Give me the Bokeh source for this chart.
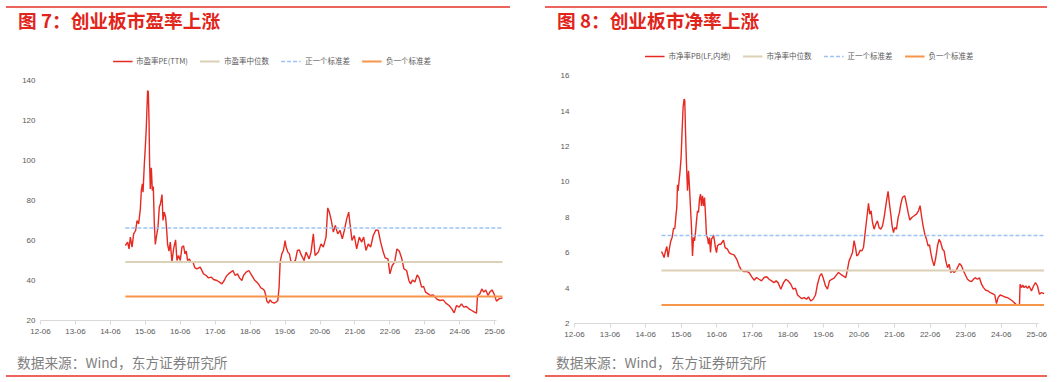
from bokeh.plotting import figure
from bokeh.models import Range1d, FixedTicker, Legend, LegendItem, Div, Spacer
from bokeh.layouts import row, column
from bokeh.embed import file_html
from bokeh.resources import INLINE

# ---------------- data ----------------
tick_months = [0, 12, 24, 36, 48, 60, 72, 84, 96, 108, 120, 132, 144, 156]
tick_labels = ["12-06", "13-06", "14-06", "15-06", "16-06", "17-06", "18-06",
               "19-06", "20-06", "21-06", "22-06", "23-06", "24-06", "25-06"]

# months since 2012-06
pe_month = [29.14, 29.93, 30.41, 30.86, 31.44, 31.99, 32.67, 33.15, 33.70, 34.29,
            34.63, 34.97, 35.21, 35.66, 36.00, 36.34, 36.58, 36.79, 37.03, 37.27,
            37.47, 37.71, 38.06, 38.40, 38.74, 39.09, 39.43, 39.87, 40.35, 40.80,
            41.14, 41.73, 42.07, 42.51, 42.96, 43.30, 43.65, 44.13, 44.57, 45.15,
            45.70, 46.39, 46.87, 47.42, 48.00, 48.58, 49.13, 49.61, 50.06, 50.50,
            51.09, 51.67, 52.35, 53.04, 53.73, 54.86, 55.99, 56.91, 57.70, 58.63,
            59.42, 60.58, 61.47, 62.30, 63.09, 63.77, 64.56, 65.38, 66.07, 66.86,
            67.65, 68.33, 69.15, 69.70, 70.63, 71.55, 72.24, 72.92, 73.61, 74.30,
            74.98, 75.67, 76.35, 76.90, 77.38, 77.73, 78.27, 78.86, 79.44, 80.23,
            80.91, 81.50, 81.94, 82.29, 82.87, 83.42, 84.00, 84.34, 84.93, 85.47,
            86.06, 86.85, 87.53, 88.22, 88.90, 89.38, 90.51, 91.20, 92.23, 92.91,
            93.70, 94.29, 95.42, 96.34, 97.13, 98.06, 98.64, 99.19, 99.87, 100.56,
            101.25, 102.07, 102.86, 103.65, 104.33, 105.15, 105.84, 106.29, 106.97, 107.76,
            108.58, 109.47, 110.30, 110.98, 111.77, 112.56, 113.38, 114.27, 115.20, 115.99,
            116.81, 117.70, 118.39, 119.31, 120.00, 120.79, 121.61, 122.40, 123.19, 124.01,
            124.80, 125.73, 126.51, 127.10, 127.78, 128.57, 129.36, 130.05, 130.87, 131.55,
            132.24, 133.13, 133.95, 134.85, 136.01, 137.14, 138.27, 139.20, 140.33, 141.26,
            142.05, 142.87, 143.76, 144.58, 145.37, 146.30, 147.19, 148.11, 149.04, 149.73,
            150.07, 150.86, 151.54, 152.23, 152.91, 153.70, 154.29, 155.07, 155.76, 156.58,
            157.47, 158.64]
pe_value = [57.5, 59.2, 55.8, 61.7, 56.7, 63.3, 65.0, 70.0, 68.3, 75.8,
            85.0, 88.3, 84.2, 98.3, 106.7, 116.7, 126.7, 135.0, 134.2, 120.0,
            98.3, 85.8, 96.3, 85.0, 87.0, 68.3, 58.0, 62.5, 66.7, 76.7,
            78.0, 83.0, 70.0, 74.2, 71.7, 65.8, 58.0, 54.7, 59.2, 49.2,
            55.8, 60.3, 50.0, 52.5, 50.0, 56.7, 57.3, 53.3, 54.7, 50.0,
            50.8, 49.2, 49.2, 46.3, 45.8, 46.7, 43.3, 42.5, 41.3, 41.7,
            40.5, 40.0, 39.2, 38.3, 40.0, 42.0, 43.3, 44.2, 45.0, 42.5,
            43.3, 41.3, 40.0, 42.5, 44.2, 45.0, 43.3, 41.7, 40.0, 39.2,
            38.0, 36.3, 35.8, 35.0, 32.5, 29.7, 28.7, 30.3, 29.2, 28.7,
            29.2, 30.0, 36.7, 49.2, 53.3, 55.0, 60.0, 56.7, 54.2, 53.3,
            49.2, 49.2, 50.0, 55.0, 55.3, 53.3, 50.0, 54.2, 50.8, 54.2,
            63.3, 52.5, 54.2, 58.3, 56.7, 61.7, 76.3, 74.2, 70.0, 64.2,
            67.5, 63.3, 65.0, 60.8, 65.0, 70.8, 74.2, 68.3, 60.0, 62.5,
            55.8, 61.7, 59.2, 61.7, 55.0, 58.3, 56.7, 62.5, 65.3, 65.0,
            59.2, 54.2, 51.3, 50.8, 43.3, 47.5, 49.2, 55.8, 54.7, 51.3,
            45.8, 45.0, 40.0, 38.3, 40.3, 39.2, 42.8, 41.3, 36.7, 37.0,
            34.2, 33.3, 32.5, 32.8, 30.8, 30.0, 30.3, 28.7, 27.5, 25.8,
            23.8, 27.5, 26.7, 28.3, 26.7, 27.0, 25.8, 25.0, 24.2, 23.7,
            32.5, 33.3, 35.8, 34.2, 35.3, 32.5, 34.2, 35.3, 33.3, 29.7,
            30.8, 31.3]
pe_median = 49.2
pe_plus_sd = 66.2
pe_minus_sd = 32.0
pe_y_ticks = [20, 40, 60, 80, 100, 120, 140]

pb_month = [29.36, 29.80, 30.23, 30.71, 31.15, 31.58, 32.06, 32.50, 32.93, 33.41,
            33.85, 34.28, 34.52, 34.76, 34.96, 35.30, 35.63, 35.97, 36.31, 36.65,
            36.98, 37.22, 37.46, 37.79, 38.13, 38.47, 38.81, 39.14, 39.48, 39.82,
            40.16, 40.49, 40.83, 41.17, 41.51, 41.84, 42.18, 42.52, 42.85, 43.19,
            43.53, 43.87, 44.20, 44.54, 44.88, 45.22, 45.55, 45.89, 46.23, 46.57,
            46.90, 47.24, 47.58, 47.92, 48.25, 48.79, 49.37, 50.28, 50.82, 51.63,
            52.17, 52.98, 53.86, 54.77, 55.54, 56.12, 57.03, 58.14, 58.92, 59.83,
            60.60, 61.41, 62.29, 63.10, 63.98, 64.89, 65.67, 66.48, 67.35, 68.03,
            68.70, 69.38, 69.61, 70.53, 71.30, 72.08, 72.99, 73.77, 74.57, 75.25,
            76.03, 76.70, 77.48, 78.29, 78.96, 79.74, 80.51, 81.32, 82.00, 82.77,
            83.35, 83.89, 84.70, 85.37, 86.05, 86.82, 87.60, 88.41, 89.09, 89.86,
            90.64, 91.55, 92.12, 92.66, 93.24, 93.81, 94.35, 94.82, 95.26, 95.83,
            96.37, 96.95, 97.52, 97.96, 98.40, 98.87, 99.21, 99.65, 100.08, 100.56,
            101.10, 101.67, 102.24, 102.78, 103.36, 103.93, 104.47, 105.05, 105.48, 105.82,
            106.29, 106.73, 107.17, 107.64, 108.08, 108.66, 109.20, 109.67, 110.11, 110.68,
            111.46, 112.03, 112.57, 113.15, 113.82, 114.60, 115.40, 116.08, 116.62, 117.09,
            117.63, 118.21, 118.78, 119.32, 119.80, 120.23, 120.80, 121.34, 121.92, 122.49,
            123.03, 123.60, 124.18, 124.72, 125.29, 125.87, 126.41, 126.98, 127.55, 128.09,
            128.67, 129.24, 129.92, 130.59, 131.27, 131.81, 132.61, 133.29, 133.96, 134.64,
            135.18, 135.99, 136.66, 137.34, 138.01, 138.79, 139.57, 140.24, 141.05, 141.83,
            142.40, 142.94, 143.62, 144.43, 145.20, 146.11, 146.99, 147.80, 148.34, 149.01,
            149.69, 150.16, 150.37, 150.84, 151.28, 151.72, 152.29, 152.86, 153.40, 154.21,
            154.88, 155.56, 156.24, 156.91, 157.59, 158.46]
pb_value = [6.07, 5.92, 5.73, 6.10, 6.35, 5.75, 6.28, 6.67, 6.86, 7.37,
            7.37, 8.18, 8.56, 9.84, 9.50, 10.07, 10.63, 11.39, 12.90, 14.22,
            14.69, 14.60, 12.90, 11.01, 9.50, 10.63, 9.69, 8.56, 7.43, 5.82,
            6.86, 6.67, 7.14, 7.80, 8.37, 8.28, 9.03, 9.31, 8.65, 9.22,
            8.65, 9.12, 8.18, 6.95, 6.86, 6.48, 6.86, 6.01, 6.77, 6.86,
            7.01, 6.67, 6.28, 6.01, 6.39, 6.48, 6.48, 6.71, 6.29, 6.20,
            6.01, 5.92, 5.88, 5.63, 5.26, 5.07, 4.94, 4.94, 4.88, 4.64,
            4.45, 4.60, 4.50, 4.41, 4.60, 4.64, 4.50, 4.41, 4.31, 4.41,
            4.31, 4.03, 3.94, 4.31, 4.50, 4.41, 4.22, 3.94, 4.00, 3.61,
            3.50, 3.40, 3.46, 3.37, 3.50, 3.27, 3.37, 3.61, 4.22, 4.69,
            4.82, 4.59, 4.12, 3.94, 4.41, 4.50, 4.56, 4.75, 4.88, 4.78,
            4.69, 4.59, 5.06, 5.54, 5.77, 6.01, 6.68, 6.30, 5.82, 5.92,
            6.14, 6.10, 6.30, 6.95, 7.61, 8.28, 8.79, 8.18, 8.37, 7.71,
            7.33, 7.61, 7.80, 7.42, 7.33, 7.52, 7.99, 8.66, 9.13, 9.47,
            8.75, 8.18, 7.52, 7.14, 7.42, 7.33, 7.99, 8.28, 8.75, 9.13,
            9.22, 8.75, 8.28, 7.84, 7.99, 8.09, 8.18, 8.37, 8.66, 8.09,
            7.52, 7.05, 6.76, 6.39, 6.44, 6.01, 5.54, 5.26, 5.73, 6.39,
            6.76, 6.57, 6.20, 6.10, 5.54, 5.16, 5.35, 4.88, 5.01, 4.88,
            4.97, 5.16, 5.39, 5.26, 4.97, 4.78, 4.50, 4.41, 4.37, 4.50,
            4.59, 4.50, 4.59, 4.22, 4.03, 3.88, 3.84, 3.75, 3.69, 3.61,
            3.12, 3.46, 3.61, 3.56, 3.50, 3.46, 3.37, 3.27, 3.18, 3.08,
            3.05, 3.08, 4.22, 4.03, 4.18, 4.03, 4.12, 3.99, 4.12, 3.84,
            4.12, 4.31, 4.12, 3.65, 3.75, 3.69]
pb_median = 5.0
pb_plus_sd = 6.97
pb_minus_sd = 3.05
pb_y_ticks = [2, 4, 6, 8, 10, 12, 14, 16]

pe_names = ["市盈率PE(TTM)", "市盈率中位数", "正一个标准差", "负一个标准差"]
pb_names = ["市净率PB(LF,内地)", "市净率中位数", "正一个标准差", "负一个标准差"]
source_text = "数据来源：Wind，东方证券研究所"

# ---------------- styles ----------------
RED_RULE = "#EC645C"
TITLE_RED = "#E1251B"
MAIN_RED = "#E62A22"
MEDIAN_C = "#DCD0B6"
PLUS_C = "#9CC3F5"
MINUS_C = "#F7964A"
AXIS_GREY = "#D9D9D9"
LABEL_GREY = "#595959"
CJK = "Noto Sans CJK SC"


def make_panel(title, months, values, median, plus, minus, names, yr, yticks, W,
               border_bottom, border_left, border_right,
               x_end, axis_end, legend_margin, pad_title, pad_src):
    top = Div(text=(
        f'<div style="box-sizing:border-box;width:{W}px;height:32px;'
        f'border-top:2px solid {RED_RULE};padding-left:{pad_title}px;padding-top:1px;'
        f"font-family:'{CJK}';font-weight:bold;font-size:18.7px;line-height:22px;"
        f'color:{TITLE_RED};white-space:nowrap;">{title}</div>'),
        width=W, height=32, margin=0)
    bottom = Div(text=(
        f'<div style="box-sizing:border-box;width:{W}px;height:35px;'
        f'border-bottom:2px solid {RED_RULE};padding-left:{pad_src}px;padding-top:11px;'
        f"font-family:'{CJK}';font-size:13.7px;line-height:18px;"
        f'color:#808080;white-space:nowrap;">{source_text}</div>'),
        width=W, height=35, margin=0)

    p = figure(width=W, height=304, x_range=Range1d(0, x_end), y_range=Range1d(*yr),
               output_backend="svg", toolbar_location=None, title=None,
               min_border_top=0, min_border_bottom=border_bottom,
               min_border_left=border_left, min_border_right=border_right)
    p.outline_line_color = None
    p.xgrid.visible = False
    p.ygrid.visible = False
    p.background_fill_color = "white"
    p.border_fill_color = "white"

    xa = p.xaxis[0]
    xa.ticker = FixedTicker(ticks=tick_months)
    xa.major_label_overrides = {m: lab for m, lab in zip(tick_months, tick_labels)}
    xa.bounds = (0, axis_end)
    xa.axis_line_color = AXIS_GREY
    xa.major_tick_line_color = AXIS_GREY
    xa.major_tick_out = 4
    xa.major_tick_in = 0
    xa.minor_tick_line_color = None
    xa.major_label_text_font = "Liberation Sans"
    xa.major_label_text_font_size = "8px"
    xa.major_label_text_color = LABEL_GREY
    xa.major_label_standoff = 4

    ya = p.yaxis[0]
    ya.ticker = FixedTicker(ticks=yticks)
    ya.axis_line_color = None
    ya.major_tick_line_color = None
    ya.minor_tick_line_color = None
    ya.major_tick_out = 0
    ya.major_tick_in = 0
    ya.major_label_text_font = "Liberation Sans"
    ya.major_label_text_font_size = "8px"
    ya.major_label_text_color = LABEL_GREY
    ya.major_label_standoff = 5

    band_x = [months[0], months[-1]]
    r_main = p.line(months, values, line_color=MAIN_RED, line_width=1.4)
    r_med = p.line(band_x, [median, median], line_color=MEDIAN_C, line_width=2)
    r_plus = p.line(band_x, [plus, plus], line_color=PLUS_C, line_width=1.5, line_dash="4 2")
    r_minus = p.line(band_x, [minus, minus], line_color=MINUS_C, line_width=2)

    legend = Legend(items=[LegendItem(label=n, renderers=[r]) for n, r in
                           zip(names, [r_main, r_med, r_plus, r_minus])],
                    orientation="horizontal", location="top_center",
                    glyph_width=20, glyph_height=10, label_height=10,
                    label_text_font=CJK, label_text_font_size="7.5px",
                    label_text_color=LABEL_GREY, label_standoff=4, spacing=12,
                    padding=0, margin=legend_margin, border_line_color=None,
                    background_fill_alpha=0)
    p.add_layout(legend, "center")

    return column(top, p, bottom, spacing=0)


# frame tops extend above the last tick so the legend sits inside the frame
left = make_panel("图 7：创业板市盈率上涨", pe_month, pe_value, pe_median, pe_plus_sd,
                  pe_minus_sd, pe_names, (20, 161), pe_y_ticks, W=504,
                  border_bottom=22, border_left=34, border_right=7,
                  x_end=159.0, axis_end=156.5,
                  legend_margin=17, pad_title=12, pad_src=11)
right = make_panel("图 8：创业板市净率上涨", pb_month, pb_value, pb_median, pb_plus_sd,
                   pb_minus_sd, pb_names, (2, 18.11), pb_y_ticks, W=502,
                   border_bottom=19, border_left=29, border_right=3,
                   x_end=158.6, axis_end=156.5,
                   legend_margin=12, pad_title=12, pad_src=11)

layout = column(Spacer(width=10, height=6),
                row(Spacer(width=6, height=10), left, Spacer(width=35, height=10), right,
                    spacing=0),
                spacing=0)

open("out.html", "w").write(file_html(layout, INLINE))
